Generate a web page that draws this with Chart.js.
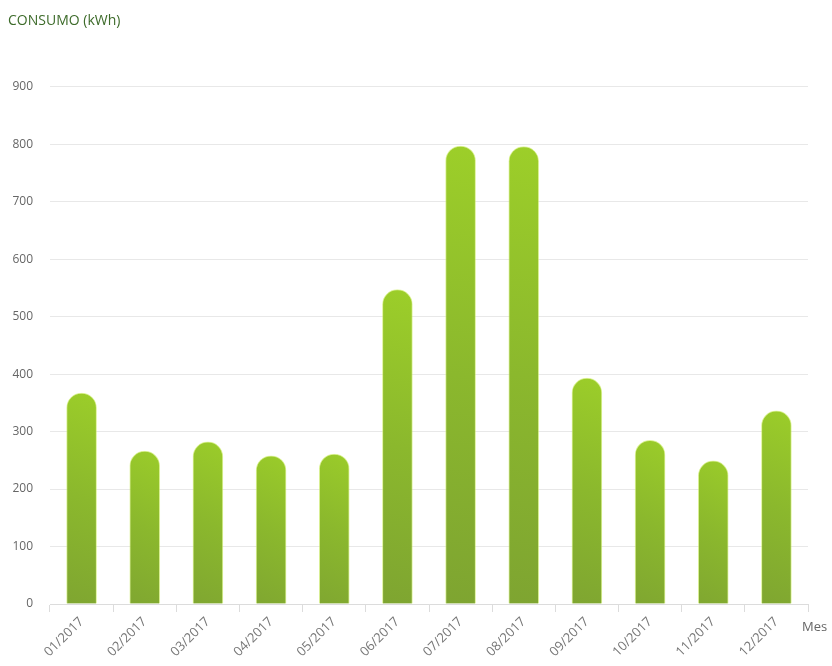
<!DOCTYPE html>
<html>
<head>
<meta charset="utf-8">
<script src="https://cdn.jsdelivr.net/npm/chart.js@4/dist/chart.umd.min.js"></script>
<style>
  body { margin: 0; background: #fff; }
  #wrap { width: 832px; height: 666px; position: relative; }
</style>
</head>
<body>
<div id="wrap"><canvas id="consumoChart"></canvas></div>
<script>
const months = ['01/2017', '02/2017', '03/2017', '04/2017', '05/2017', '06/2017',
                '07/2017', '08/2017', '09/2017', '10/2017', '11/2017', '12/2017'];
const consumo = [367, 266, 282, 258, 261, 547, 797, 796, 393, 285, 249, 336];
const yTicks = [0, 100, 200, 300, 400, 500, 600, 700, 800, 900];

// each bar gets its own gradient, darker bottom-left, brighter top-right
function barGradient(context) {
    const chart = context.chart;
    if (!chart.chartArea || context.type !== 'data') return '#8fbf2a';
    const xs = chart.scales.x, ys = chart.scales.y;
    const cx = xs.getPixelForValue(context.dataIndex);
    const top = ys.getPixelForValue(context.raw);
    const bottom = ys.getPixelForValue(0);
    const g = chart.ctx.createLinearGradient(cx - 40, bottom, cx + 40, top);
    g.addColorStop(0, '#7ea431');
    g.addColorStop(0.5, '#8bb82d');
    g.addColorStop(1, '#9dcf29');
    return g;
}

const mesLabel = {
    id: 'mesLabel',
    afterDraw(chart) {
        const { ctx, chartArea } = chart;
        ctx.save();
        ctx.font = '13px "Open Sans"';
        ctx.fillStyle = '#666';
        ctx.textBaseline = 'middle';
        ctx.fillText('Mes', chartArea.right - 6, chartArea.bottom + 23);
        ctx.restore();
    }
};

new Chart(document.getElementById('consumoChart'), {
    type: 'bar',
    data: {
        labels: months,
        datasets: [{
            label: 'Consumo',
            data: consumo,
            backgroundColor: barGradient,
            borderColor: 'rgba(200,235,90,0.6)',
            borderWidth: 1,
            borderSkipped: 'start',
            borderRadius: { topLeft: 15, topRight: 15, bottomLeft: 0, bottomRight: 0 },
            barThickness: 30
        }]
    },
    options: {
        responsive: true,
        maintainAspectRatio: false,
        animation: false,
        layout: { padding: { left: 8, right: 24, top: 0, bottom: 0 } },
        plugins: {
            legend: { display: false },
            tooltip: { enabled: false },
            title: {
                display: true,
                text: 'CONSUMO (kWh)',
                align: 'start',
                color: '#3d6b2a',
                font: { family: '"Open Sans"', size: 14, weight: 'normal' },
                padding: { top: 13, bottom: 57 }
            }
        },
        scales: {
            x: {
                offset: true,
                afterFit(axis) { axis.height = 62; },
                grid: {
                    offset: true,
                    drawOnChartArea: false,
                    drawTicks: true,
                    tickLength: 8,
                    color: '#dcdcdc'
                },
                border: { display: true, color: '#dcdcdc' },
                ticks: {
                    color: '#777',
                    minRotation: 45,
                    maxRotation: 45,
                    padding: 2,
                    font: { family: '"Open Sans"', size: 13 }
                }
            },
            y: {
                min: 0,
                max: 900,
                afterFit(axis) { axis.width = 42; },
                afterBuildTicks(axis) {
                    axis.ticks = yTicks.map(v => ({ value: v }));
                },
                grid: { color: '#e8e8e8', drawTicks: false },
                border: { display: false },
                ticks: {
                    color: '#666',
                    padding: 17,
                    font: { family: '"Open Sans"', size: 12 }
                }
            }
        }
    },
    plugins: [mesLabel]
});
</script>
</body>
</html>
